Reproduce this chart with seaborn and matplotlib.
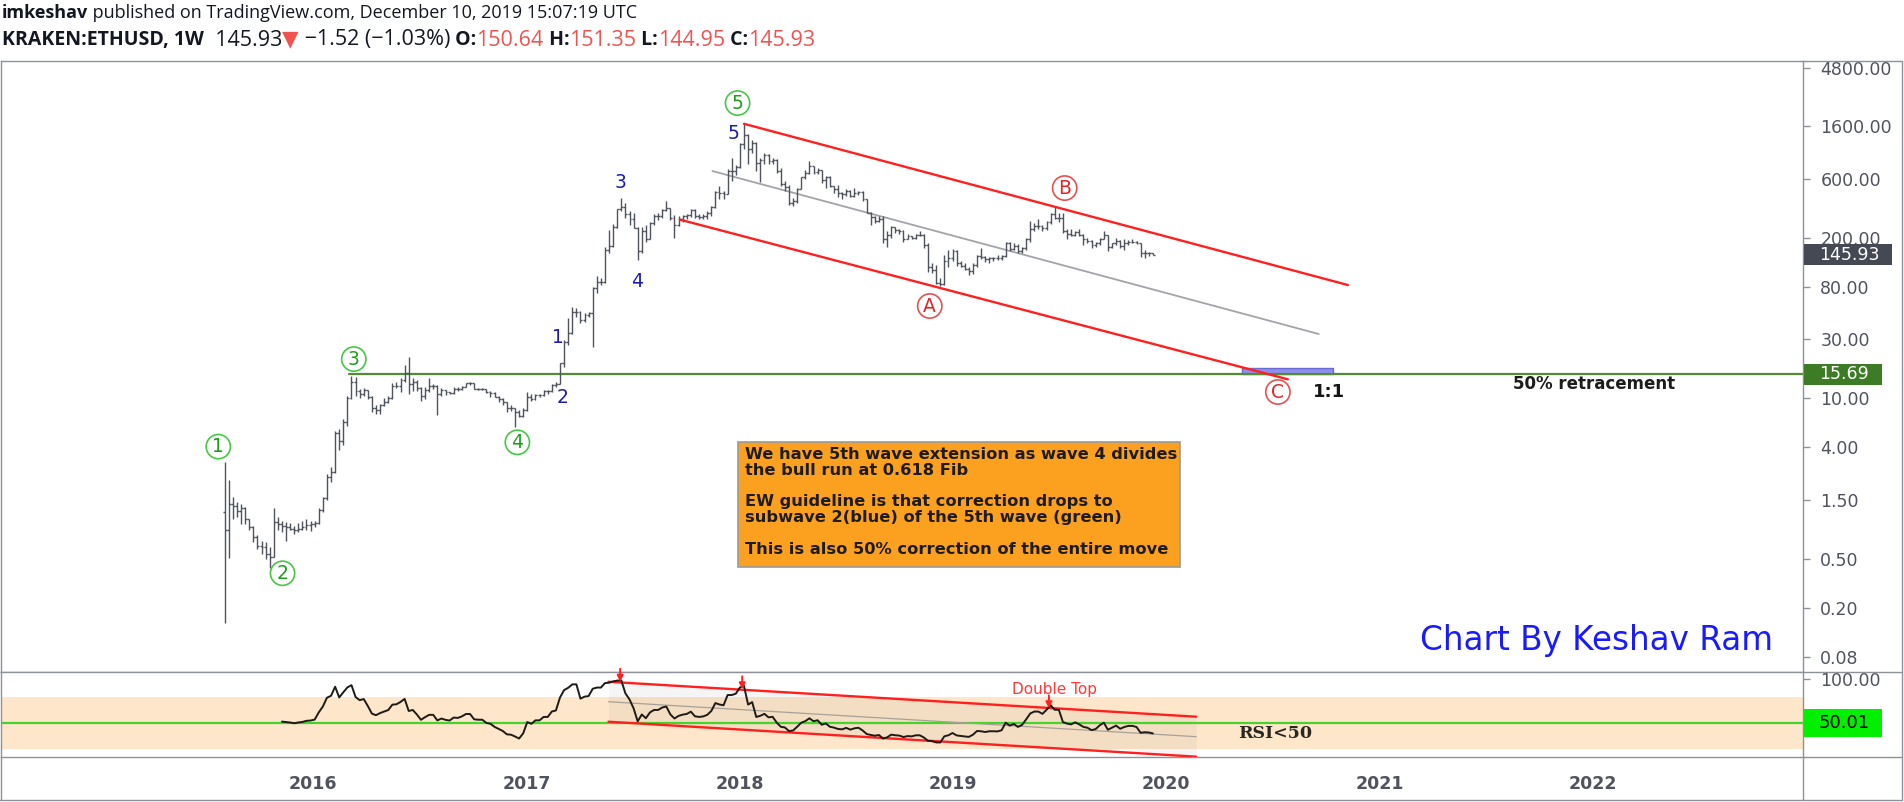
import numpy as np
import pandas as pd
import seaborn as sns
import matplotlib.pyplot as plt
import matplotlib.dates as mdates
from matplotlib.patches import Rectangle
from matplotlib.lines import Line2D
from matplotlib.ticker import FuncFormatter, NullLocator

# KRAKEN:ETHUSD weekly bars, first bar = week of Mon 2015-08-03
first_week = "2015-08-03"
first_open = 1.2

closes = [
    # 2015
    0.85, 1.40, 1.35, 1.22, 1.30, 1.05, 0.90, 0.75, 0.63, 0.62, 0.55, 0.52, 1.00, 0.95, 0.92, 0.90, 0.88, 0.85, 0.88, 0.90, 0.94, 0.95,
    # 2016
    0.98, 1.25, 1.55, 2.30, 2.55, 5.20, 4.50, 6.40, 10.0, 13.5, 11.5, 10.9, 11.6, 10.2, 8.4, 8.0, 8.8, 9.4, 10.0, 12.5, 12.7, 14.0, 16.0, 13.0, 13.5, 12.2,
    10.5, 11.6, 12.6, 12.6, 10.9, 11.6, 11.2, 11.0, 12.0, 11.9, 12.4, 13.2, 13.2, 12.0, 11.9, 11.9, 11.2, 11.0, 10.3, 9.8, 9.3, 8.4, 8.3, 7.8, 7.2, 8.0,
    # 2017
    10.2, 9.8, 10.6, 10.6, 11.4, 11.4, 12.8, 13.1, 19.2, 28.5, 34.0, 50.0, 50.5, 43.0, 47.5, 49.0, 79.0, 88.0, 88.0, 158, 172, 245, 340, 355, 310, 285,
    242, 155, 226, 195, 265, 300, 300, 335, 350, 290, 255, 285, 300, 308, 335, 300, 295, 300, 315, 355, 470, 460, 455, 700, 700, 750,
    # 2018
    1150, 1350, 1050, 1180, 810, 860, 940, 840, 860, 690, 545, 520, 385, 400, 500, 620, 670, 760, 680, 710, 585, 620, 525, 500, 460, 450,
    480, 435, 460, 470, 410, 320, 295, 275, 285, 195, 210, 245, 232, 225, 195, 205, 200, 210, 210, 175, 115, 110, 86, 85, 130, 138, 155,
    # 2019
    125, 118, 112, 107, 120, 143, 140, 134, 138, 138, 137, 142, 180, 163, 172, 155, 165, 195, 235, 250, 250, 240, 270, 310, 290,
    290, 225, 215, 210, 222, 210, 195, 190, 175, 180, 197, 210, 170, 180, 190, 172, 180, 185, 185, 180, 150, 152, 150.64, 145.93,
]
highs = [
    3.07, 2.18, 1.60, 1.45, 1.40, 1.32, 1.05, 0.92, 0.78, 0.70, 0.68, 0.62, 1.30, 1.10, 1.02, 1.00, 0.97, 0.92, 0.98, 1.02, 1.05, 1.02,
    1.02, 1.30, 1.60, 2.45, 2.80, 5.40, 5.60, 6.80, 10.5, 15.3, 14.8, 12.0, 12.2, 11.7, 10.4, 8.9, 9.0, 10.0, 10.5, 13.4, 13.5, 14.5, 18.5, 21.5, 14.5, 14.2,
    12.4, 12.4, 14.6, 13.0, 12.8, 12.2, 11.6, 11.3, 12.3, 12.3, 12.7, 13.4, 13.5, 13.3, 12.2, 12.2, 12.0, 11.4, 11.3, 10.4, 10.0, 9.4, 8.8, 8.4, 8.0, 8.3,
    11.2, 10.8, 10.9, 10.8, 11.6, 11.6, 13.0, 13.5, 19.5, 29.5, 45.0, 55.0, 54.0, 51.0, 49.0, 50.5, 80.0, 98.0, 94.0, 170, 230, 260, 345, 420, 385, 330,
    315, 245, 245, 255, 270, 310, 315, 345, 400, 350, 305, 300, 305, 310, 345, 340, 310, 310, 330, 360, 480, 525, 480, 720, 880, 780,
    1180, 1660, 1380, 1250, 1200, 880, 965, 950, 880, 870, 740, 580, 540, 420, 510, 625, 710, 835, 760, 730, 715, 630, 630, 530, 540, 470,
    495, 490, 505, 480, 475, 415, 325, 300, 300, 300, 225, 250, 245, 235, 230, 215, 208, 215, 225, 215, 180, 125, 120, 95, 145, 160, 163,
    160, 130, 125, 115, 125, 145, 165, 142, 140, 140, 145, 145, 185, 185, 180, 178, 170, 200, 275, 265, 285, 255, 275, 320, 365,
    320, 315, 235, 235, 225, 235, 215, 200, 192, 185, 200, 225, 212, 182, 198, 192, 197, 192, 195, 190, 180, 160, 153, 151.35,
]
lows = [
    0.15, 0.51, 1.05, 1.10, 0.95, 0.95, 0.85, 0.68, 0.60, 0.55, 0.50, 0.42, 0.52, 0.85, 0.82, 0.70, 0.85, 0.80, 0.82, 0.85, 0.85, 0.84,
    0.90, 0.95, 1.20, 1.50, 2.10, 2.50, 3.80, 4.20, 6.00, 9.80, 10.5, 10.0, 10.5, 9.8, 7.8, 7.5, 7.4, 8.6, 9.2, 9.8, 12.2, 11.2, 13.6, 10.8, 11.5, 11.5,
    9.6, 9.9, 11.3, 12.0, 7.3, 10.5, 10.7, 10.8, 10.8, 11.5, 11.7, 12.3, 12.8, 11.8, 11.7, 11.7, 11.0, 10.3, 10.2, 9.4, 8.8, 7.8, 7.9, 5.9, 7.0, 7.0,
    7.9, 9.5, 9.7, 10.3, 10.5, 10.9, 11.2, 12.4, 13.0, 18.0, 27.0, 33.0, 46.0, 41.0, 41.5, 45.5, 26.0, 72.0, 83.0, 86.0, 150, 170, 240, 330, 290, 255,
    240, 131, 150, 185, 195, 255, 280, 290, 330, 280, 200, 250, 270, 285, 295, 290, 285, 285, 285, 300, 350, 410, 410, 450, 580, 640,
    740, 1050, 800, 980, 700, 570, 800, 790, 800, 670, 530, 480, 370, 365, 380, 495, 600, 660, 660, 660, 560, 510, 520, 460, 430, 415,
    440, 425, 430, 445, 400, 315, 255, 265, 270, 180, 168, 200, 220, 215, 185, 194, 196, 195, 205, 165, 105, 103, 85, 82, 83, 115, 130,
    118, 115, 110, 100, 102, 117, 135, 128, 124, 130, 133, 132, 140, 155, 160, 150, 150, 160, 185, 225, 235, 225, 230, 260, 285,
    270, 220, 195, 205, 205, 205, 175, 182, 165, 168, 175, 195, 155, 165, 175, 165, 158, 175, 180, 178, 140, 137, 143, 144.95,
]

price_ticks = [4800, 1600, 600, 200, 80, 30, 10, 4, 1.5, 0.5, 0.2, 0.08]
year_ticks = ["2016", "2017", "2018", "2019", "2020", "2021", "2022"]
last_price = 145.93
retrace_level = 15.69
rsi_level = 50.01

green_waves = [("1", "2015-07-23", 4.06), ("2", "2015-11-10", 0.382), ("3", "2016-03-11", 20.8),
               ("4", "2016-12-16", 4.40), ("5", "2017-12-28", 2473)]
blue_waves = [("1", "2017-02-24", 31.1), ("2", "2017-03-03", 10.07), ("3", "2017-06-10", 566),
              ("4", "2017-07-09", 88.3), ("5", "2017-12-21", 1400)]
red_waves = [("A", "2018-11-22", 56.0), ("B", "2019-07-11", 506), ("C", "2020-07-10", 11.25)]

note_lines = ["We have 5th wave extension as wave 4 divides", "the bull run at 0.618 Fib", "",
              "EW guideline is that correction drops to", "subwave 2(blue) of the 5th wave (green)", "",
              "This is also 50% correction of the entire move"]


def d(s):
    return mdates.date2num(pd.Timestamp(s))


def wilder_rsi(values, n=14):
    c = np.asarray(values, float)
    diff = np.diff(c)
    up = np.clip(diff, 0, None)
    dn = np.clip(-diff, 0, None)
    out = np.full(len(c), np.nan)
    ag, al = up[:n].mean(), dn[:n].mean()
    out[n] = 100 - 100 / (1 + ag / al)
    for i in range(n, len(diff)):
        ag = (ag * (n - 1) + up[i]) / n
        al = (al * (n - 1) + dn[i]) / n
        out[i + 1] = 100 - 100 / (1 + ag / al)
    return out


sns.set_style("white")
plt.rcParams["font.family"] = ["DejaVu Sans"]

W, H = 1904, 802
fig = plt.figure(figsize=(W / 100, H / 100), dpi=100, facecolor="white")
frame = "#8e919a"
axis_txt = "#50535e"

ax = fig.add_axes([1 / W, 1 - 672 / H, 1802 / W, (672 - 61) / H])
axr = fig.add_axes([1 / W, 1 - 757 / H, 1802 / W, (757 - 672) / H], sharex=ax)

x = mdates.date2num(pd.date_range(first_week, periods=len(closes), freq="7D"))
opens = [first_open] + closes[:-1]

# ---- price pane
ax.set_yscale("log")
bar_col = "#4f535e"
half = 3.3
ax.vlines(x, lows, highs, color=bar_col, lw=1.0, zorder=4)
ax.hlines(opens, x - half, x, color=bar_col, lw=1.0, zorder=4)
ax.hlines(closes, x, x + half, color=bar_col, lw=1.0, zorder=4)

ax.set_xlim(d("2014-07-16"), d("2022-12-26"))
ax.set_ylim(0.0605, 5420)
ax.yaxis.tick_right()
ax.set_yticks(price_ticks)
ax.yaxis.set_minor_locator(NullLocator())
ax.yaxis.set_major_formatter(FuncFormatter(lambda v, p: f"{v:.2f}"))
ax.tick_params(axis="y", length=5, width=1, color=frame, labelsize=12.5, labelcolor=axis_txt, pad=7.5)
ax.tick_params(axis="x", bottom=False, labelbottom=False)
for sp in ax.spines.values():
    sp.set_color(frame)
    sp.set_linewidth(1)

xmax = ax.get_xlim()[1]
ax.plot([d("2016-03-03"), xmax], [retrace_level, retrace_level], color="#548c36", lw=1.6, zorder=3)
ax.add_patch(Rectangle((d("2020-05-10"), retrace_level), d("2020-10-13") - d("2020-05-10"), 17.6 - retrace_level,
                       fc="#8e8ef0", ec="#6a6ad4", lw=1, zorder=2))
ax.plot([d("2018-01-08"), d("2020-11-07")], [1679, 82.8], color="#ff1f1f", lw=1.7, zorder=5)
ax.plot([d("2017-09-20"), d("2020-07-27")], [281, 14.26], color="#ff1f1f", lw=1.7, zorder=5)
ax.plot([d("2017-11-15"), d("2020-09-18")], [695, 33.2], color="#a3a3aa", lw=1.3, zorder=3)

for s, dt, v in green_waves:
    ax.text(d(dt), v, s, ha="center", va="center", fontsize=13.5, color="#1e9e1e", zorder=6,
            bbox=dict(boxstyle="circle,pad=0.14", fc="white", ec="#45c845", lw=1.2))
for s, dt, v in red_waves:
    ax.text(d(dt), v, s, ha="center", va="center", fontsize=13.5, color="#dc2828", zorder=6,
            bbox=dict(boxstyle="circle,pad=0.14", fc="white", ec="#e85050", lw=1.2))
for s, dt, v in blue_waves:
    ax.text(d(dt), v, s, ha="center", va="center", fontsize=13.5, color="#1c1cb0", zorder=6)

ax.text(d("2020-10-05"), 11.25, "1:1", ha="center", va="center", fontsize=13, fontweight="bold", color="#151515")
ax.text(d("2022-01-02"), 13.16, "50% retracement", ha="center", va="center", fontsize=12,
        fontweight="bold", color="#1c1c1c")

ax.add_patch(Rectangle((d("2017-12-28"), 0.432), d("2020-01-24") - d("2017-12-28"), 4.45 - 0.432,
                       fc="#fca11f", ec="#9a9a9a", lw=1.2, zorder=6))
line_y = [3.475, 2.59, 0, 1.445, 1.072, 0, 0.590]
for s, yv in zip(note_lines, line_y):
    if s:
        ax.text(d("2018-01-10"), yv, s, ha="left", va="center", fontsize=11.7, fontweight="bold",
                color="#1e1c18", zorder=7)

ax.text(d("2022-01-06"), 0.108, "Chart By Keshav Ram", ha="center", va="center", fontsize=23.5, color="#1a1aff")

# ---- RSI pane
rsi = wilder_rsi(closes)
axr.axhspan(20, 80, color="#fde6c9", lw=0, zorder=0)
ch_x = [d("2017-05-21"), d("2020-02-21")]
axr.fill_between(ch_x, [96.9, 57.2], [51.5, 11.8], color="#7a7a7a", alpha=0.07, lw=0, zorder=1)
axr.axhline(rsi_level, color="#45d42b", lw=1.6, zorder=2)
axr.plot(ch_x, [74.2, 34.5], color="#a8a098", lw=0.9, zorder=2)
axr.plot(ch_x, [96.9, 57.2], color="#ff1f1f", lw=1.7, zorder=3)
axr.plot(ch_x, [51.5, 11.8], color="#ff1f1f", lw=1.7, zorder=3)
sns.lineplot(x=x, y=rsi, ax=axr, color="#1e1a16", lw=1.4, zorder=4)

for dt, v in [("2017-06-10", 96.9), ("2018-01-05", 88.3), ("2019-06-14", 66.7)]:
    axr.annotate("", xy=(d(dt), v), xytext=(0, 13), textcoords="offset pixels",
                 arrowprops=dict(arrowstyle="-|>", color="#ff2020", lw=1.4, mutation_scale=9,
                                 shrinkA=0, shrinkB=0), zorder=5)
axr.text(d("2019-06-24"), 88.6, "Double Top", ha="center", va="center", fontsize=11, color="#ff3838")
axr.text(d("2020-07-06"), 38.3, "RSI<50", ha="center", va="center", fontsize=12.5, fontweight="bold",
         color="#2a2620", family="DejaVu Serif")

axr.set_ylim(11.4, 108)
axr.set_ylabel("")
axr.yaxis.tick_right()
axr.set_yticks([100])
axr.yaxis.set_major_formatter(FuncFormatter(lambda v, p: f"{v:.2f}"))
axr.tick_params(axis="y", length=5, width=1, color=frame, labelsize=12.5, labelcolor=axis_txt, pad=7.5)
axr.set_xticks([d(f"{y}-01-01") for y in year_ticks])
axr.set_xticklabels(year_ticks)
axr.tick_params(axis="x", length=4, width=1, color=frame, labelsize=12.5, labelcolor=axis_txt, pad=9)
for lab in axr.get_xticklabels():
    lab.set_fontweight("bold")
for sp in axr.spines.values():
    sp.set_color(frame)
    sp.set_linewidth(1)
axr.set_xlim(d("2014-07-16"), d("2022-12-26"))


# ---- right axis tags
def tag(axis, value, label, fc, tc, h, w, size):
    ypx = axis.transData.transform((axis.get_xlim()[0], value))[1]
    fig.add_artist(Rectangle((1804, ypx - h / 2), w, h, transform=None, fc=fc, ec="none", zorder=10))
    fig.text(1819, ypx, label, transform=None, ha="left", va="center", fontsize=size, color=tc, zorder=11)


tag(ax, last_price, f"{last_price:.2f}", "#454954", "white", 21, 88, 12.5)
tag(ax, retrace_level, f"{retrace_level:.2f}", "#3e7b25", "white", 21, 78, 12.5)
tag(axr, rsi_level, f"{rsi_level:.2f}", "#00f000", "black", 28, 78, 13)


# ---- frame lines in pixel coords
def pline(xs, ys):
    fig.add_artist(Line2D(xs, [H - y for y in ys], transform=None, color=frame, lw=1, zorder=9))


pline([1803, 1902], [61, 61])
pline([1803, 1902], [672, 672])
pline([1803, 1902], [757, 757])
pline([1902, 1902], [61, 800])
pline([0, 1902], [800, 800])
pline([1, 1], [757, 800])
pline([1803, 1803], [757, 800])

# ---- header
hdr_font = ["Open Sans", "DejaVu Sans"]
renderer = fig.canvas.get_renderer()


def text_run(x0, ypx, parts):
    for s, color, weight, size in parts:
        t = fig.text(x0, H - ypx, s, transform=None, ha="left", va="center", fontsize=size, color=color,
                     fontweight=weight, family=hdr_font)
        x0 = t.get_window_extent(renderer).x1


dark = "#131722"
red = "#ef5350"
text_run(2, 13, [("imkeshav", dark, "bold", 13),
                 (" published on TradingView.com, December 10, 2019 15:07:19 UTC", dark, "normal", 13)])
text_run(2, 40, [("KRAKEN:ETHUSD, 1W", dark, "bold", 14), ("  145.93", dark, "normal", 15.5),
                 ("\u25BC", red, "normal", 15.5), (" \u22121.52 (\u22121.03%)", dark, "normal", 15.5),
                 (" O:", dark, "bold", 14), ("150.64", red, "normal", 15.5),
                 (" H:", dark, "bold", 14), ("151.35", red, "normal", 15.5),
                 (" L:", dark, "bold", 14), ("144.95", red, "normal", 15.5),
                 (" C:", dark, "bold", 14), ("145.93", red, "normal", 15.5)])

fig.savefig("out.png", dpi=100, facecolor="white")
